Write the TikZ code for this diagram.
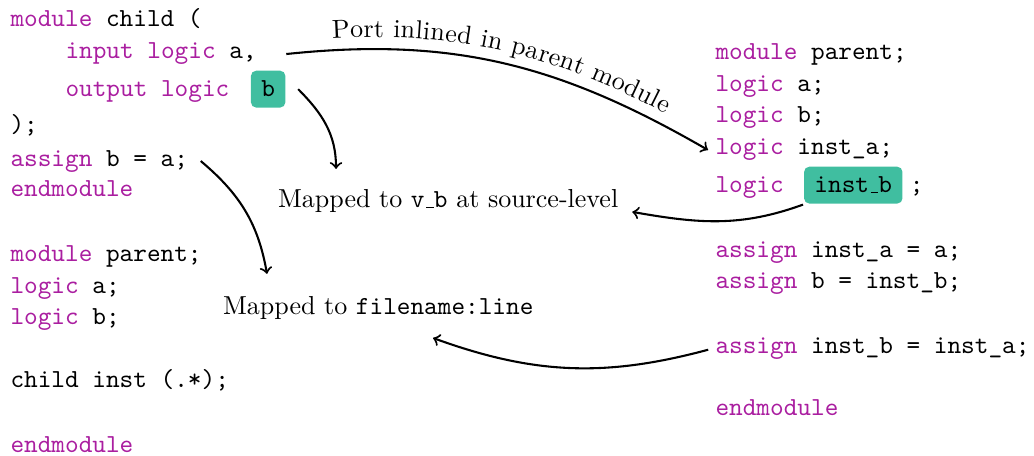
\documentclass[tikz,border=0pt]{standalone}
\usetikzlibrary{decorations.text}
\definecolor{kwc}{RGB}{170,30,160}
\definecolor{hlc}{RGB}{64,190,160}
\newcommand{\kw}[1]{\textcolor{kwc}{#1}}
\newcommand{\tus}{\leavevmode\kern.06em\vbox{\hrule width.3em}}

\begin{document}
\begin{tikzpicture}[x=0.3846pt,y=-0.3846pt,thick,
  code/.style={anchor=base west,inner sep=0pt,font=\ttfamily},
  hl/.style={anchor=base west,fill=hlc,rounded corners=2pt,inner sep=4pt,font=\ttfamily},
  lbl/.style={anchor=base west,inner sep=0pt}]
  \useasboundingbox (0,0) rectangle (1034,456);
  % left column: the child module and the parent that instantiates it
  \node[code] (cmod) at (9.5,27) {\kw{module} child (};
  \node[code] (cin) at (64.5,59) {\kw{input logic} a,};
  \node[code] (cout) at (64.5,97) {\kw{output logic}};
  \node[hl] (boxb) at ([xshift=7.5pt]cout.base east) {b};
  \node[code] (cclose) at (9.5,133) {);};
  \node[code] (cass) at (9.5,166) {\kw{assign} b = a;};
  \node[code] (cend) at (9.5,197) {\kw{endmodule}};
  \node[code] (mmod) at (9.5,262) {\kw{module} parent;};
  \node[code] (mla) at (9.5,293) {\kw{logic} a;};
  \node[code] (mlb) at (9.5,324.5) {\kw{logic} b;};
  \node[code] (minst) at (9.5,388) {child inst (.*);};
  \node[code] (mend) at (9.5,452) {\kw{endmodule}};
  % right column: parent after inlining
  \node[code] (pmod) at (714.5,60) {\kw{module} parent;};
  \node[code] (pla) at (714.5,92) {\kw{logic} a;};
  \node[code] (plb) at (714.5,123) {\kw{logic} b;};
  \node[code] (pinsta) at (714.5,155) {\kw{logic} inst\_a;};
  \node[code] (pinstb) at (714.5,193) {\kw{logic}};
  \node[hl] (boxib) at ([xshift=7pt]pinstb.base east) {inst\tus b};
  \node[code] (psemi) at ([xshift=2pt]boxib.base east) {;};
  \node[code] (pasa) at (714.5,257) {\kw{assign} inst\_a = a;};
  \node[code] (pasb) at (714.5,288) {\kw{assign} b = inst\_b;};
  \node[code] (pasgn) at (714.5,353) {\kw{assign} inst\_b = inst\_a;};
  \node[code] (pend) at (714.5,415) {\kw{endmodule}};
  % labels in the middle
  \node[lbl] (lblvb) at (277,208) {Mapped to \texttt{v\tus b} at source-level};
  \node[lbl] (lblfl) at (222,315) {Mapped to \texttt{filename:line}};
  % connectors
  \draw[->,postaction={decorate,decoration={text along path,text={Port inlined in parent module},raise=4.5pt,text align={left indent=18pt}}}]
    ([xshift=11pt]cin.east) to[out=6,in=150] ([xshift=-2.5pt]pinsta.west);
  \draw[->] ([xshift=4.5pt]boxb.east) to[out=-45,in=90] ([xshift=22.7pt,yshift=7.7pt]lblvb.north west);
  \draw[->] ([xshift=4.5pt]cass.east) to[out=-40,in=100] ([xshift=17.3pt,yshift=8.5pt]lblfl.north west);
  \draw[->] (boxib.south west) to[out=200,in=-10] ([xshift=5pt,yshift=-4pt]lblvb.east);
  \draw[->,shorten <=2.5pt] (pasgn.west) to[out=195,in=-20] ([xshift=-39pt,yshift=-6.5pt]lblfl.south east);
\end{tikzpicture}
\end{document}
